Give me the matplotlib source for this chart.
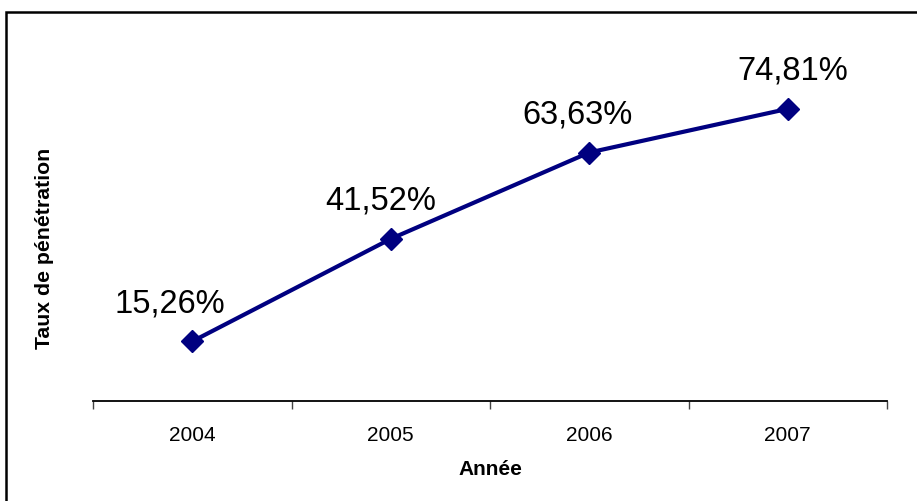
import matplotlib.pyplot as plt
from matplotlib.patches import Rectangle
import numpy as np

plt.rcParams['font.family'] = ['Liberation Sans', 'DejaVu Sans']

annees = ['2004', '2005', '2006', '2007']
taux = [15.26, 41.52, 63.63, 74.81]
etiquettes = ['15,26%', '41,52%', '63,63%', '74,81%']

# label offsets in pixels (x, y) relative to each point
decalages = [(-22, 30), (-10, 30), (-12, 30), (5, 30)]

fig = plt.figure(figsize=(9.17, 5.02), dpi=100)
ax = fig.add_axes([93 / 917, 1 - 402 / 502, 794 / 917, 371 / 502])

x = np.arange(len(annees))
ax.plot(x, taux, color='#000080', lw=3, marker='D', markersize=11,
        markerfacecolor='#000080', markeredgecolor='#000080', clip_on=False)

for xi, v, txt, (dx, dy) in zip(x, taux, etiquettes, decalages):
    ax.annotate(txt, (xi, v), xytext=(dx, dy), textcoords='offset pixels',
                ha='center', va='baseline', fontsize=23.5, color='black')

ax.set_xlim(-0.5, len(annees) - 0.5)
ax.set_ylim(0, 95)

ax.set_xticks(np.arange(len(annees) + 1) - 0.5)
ax.set_xticklabels([])
ax.set_xticks(x, minor=True)
ax.set_xticklabels(annees, minor=True, fontsize=15)
ax.tick_params(axis='x', which='major', length=6, width=1, direction='out', color='#444444')
ax.tick_params(axis='x', which='minor', length=0, pad=17)
ax.set_yticks([])

for s in ['left', 'right', 'top']:
    ax.spines[s].set_visible(False)
ax.spines['bottom'].set_linewidth(1.3)
ax.spines['bottom'].set_color('black')

fig.text(490 / 917, 1 - 470 / 502, 'Année', ha='center', va='center',
         fontsize=15, fontweight='bold')
fig.text(45 / 917, 1 - 248 / 502, 'Taux de pénétration', ha='center', va='center',
         rotation=90, fontsize=15.3, fontweight='bold')

# outer chart frame (cut by the right and bottom edges)
fig.patches.append(Rectangle((6 / 917, -0.1), 1.2, 1 - 12.5 / 502 + 0.1,
                             transform=fig.transFigure, fill=False,
                             edgecolor='black', lw=1.8))

fig.savefig('out.png', dpi=100)
